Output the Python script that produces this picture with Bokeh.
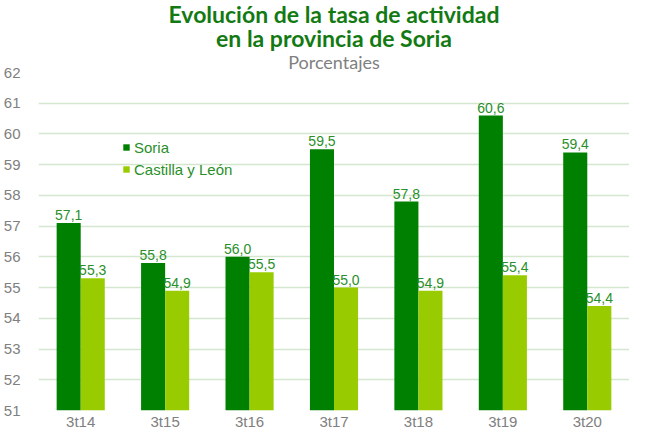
from bokeh.plotting import figure
from bokeh.models import ColumnDataSource, FactorRange, Legend, LegendItem, Range1d, FixedTicker, Title
from bokeh.transform import dodge
from bokeh.core.properties import value
from bokeh.embed import file_html
from bokeh.resources import INLINE

categories = ["3t14", "3t15", "3t16", "3t17", "3t18", "3t19", "3t20"]
soria = [57.1, 55.8, 56.0, 59.5, 57.8, 60.6, 59.4]
cyl = [55.3, 54.9, 55.5, 55.0, 54.9, 55.4, 54.4]
yticks = list(range(51, 63))

def fmt(v):
    return f"{v:.1f}".replace(".", ",")

src = ColumnDataSource(dict(
    cat=categories, soria=soria, cyl=cyl,
    soria_lbl=[fmt(v) for v in soria], cyl_lbl=[fmt(v) for v in cyl],
))

DARK = "#008000"
LIGHT = "#99cc00"
TXT = "#2a8f2a"

p = figure(x_range=FactorRange(*categories, range_padding=0), y_range=Range1d(51, 62),
           width=629, height=432, output_backend="svg", toolbar_location=None,
           min_border_left=32, min_border_right=0, min_border_top=0, min_border_bottom=0)
p.outline_line_color = None
p.background_fill_color = "white"
p.border_fill_color = "white"

bw = 0.285
r1 = p.vbar(x=dodge("cat", -bw/2, range=p.x_range), top="soria", bottom=51, width=bw,
            source=src, fill_color=DARK, line_color=None)
r2 = p.vbar(x=dodge("cat", bw/2, range=p.x_range), top="cyl", bottom=51, width=bw,
            source=src, fill_color=LIGHT, line_color=None)

p.text(x=dodge("cat", -bw/2, range=p.x_range), y="soria", text="soria_lbl", source=src,
       text_align="center", text_baseline="alphabetic", y_offset=-8,
       text_font=value("Liberation Sans"), text_font_size="14px", text_color=TXT)
p.text(x=dodge("cat", bw/2, range=p.x_range), y="cyl", text="cyl_lbl", source=src,
       text_align="center", text_baseline="alphabetic", y_offset=-8,
       text_font=value("Liberation Sans"), text_font_size="14px", text_color=TXT)

# axes
p.yaxis.ticker = FixedTicker(ticks=yticks)
p.yaxis.axis_line_color = None
p.yaxis.major_tick_line_color = None
p.yaxis.minor_tick_line_color = None
p.yaxis.major_label_text_font = "Liberation Sans"
p.yaxis.major_label_text_font_size = "15px"
p.yaxis.major_label_text_color = "#808080"
p.yaxis.major_label_standoff = 12

p.xaxis.axis_line_color = None
p.xaxis.major_tick_line_color = None
p.xaxis.major_tick_out = 0
p.xaxis.major_tick_in = 0
p.xaxis.major_label_text_font = "Liberation Sans"
p.xaxis.major_label_text_font_size = "15px"
p.xaxis.major_label_text_color = "#808080"
p.xaxis.major_label_standoff = 2

p.xgrid.grid_line_color = None
p.ygrid.grid_line_color = "#d5e6cf"
p.ygrid.grid_line_width = 1.5

# legend
legend = Legend(items=[LegendItem(label="Soria", renderers=[r1]),
                       LegendItem(label="Castilla y León", renderers=[r2])],
                location=(84, 232), glyph_width=8, glyph_height=8, label_height=18,
                spacing=4, padding=0, margin=0, label_standoff=4,
                label_text_font="Liberation Sans", label_text_font_size="15px",
                label_text_color=TXT, border_line_color=None, background_fill_alpha=0)
p.add_layout(legend, "center")

# titles: p.title is outermost; first-added extra title sits closest to the plot
p.title.text = "Evolución de la tasa de actividad"
p.title.align = "center"
p.title.offset = -6
p.title.text_font = "Lato"
p.title.text_font_style = "bold"
p.title.text_font_size = "23px"
p.title.text_color = "#137a13"
p.title.standoff = -6
p.add_layout(Title(text="Porcentajes", align="center", offset=-6, text_font="Lato",
                   text_font_style="normal", text_font_size="18px", text_color="#808080",
                   standoff=0), "above")
p.add_layout(Title(text="en la provincia de Soria", align="center", offset=-6, text_font="Lato",
                   text_font_style="bold", text_font_size="23px", text_color="#137a13",
                   standoff=-6), "above")

open("out.html", "w").write(file_html(p, INLINE))
